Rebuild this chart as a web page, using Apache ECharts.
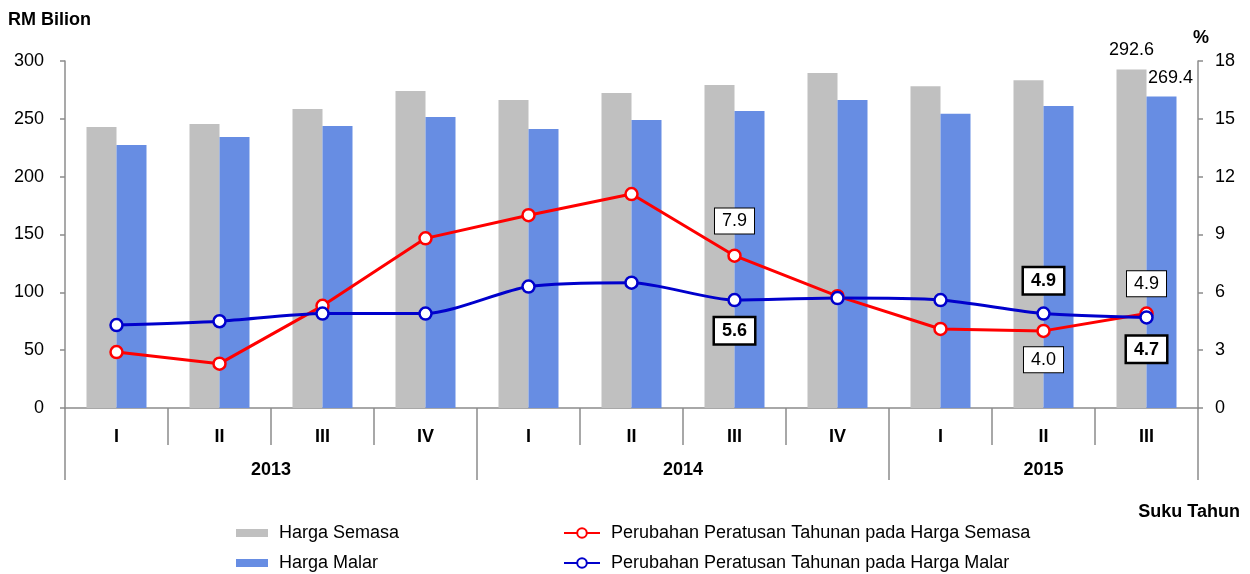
<!DOCTYPE html>
<html>
<head>
<meta charset="utf-8">
<script src="https://cdn.jsdelivr.net/npm/echarts@6/dist/echarts.min.js"></script>
<style>
  html, body { margin: 0; padding: 0; background: #fff; }
  #chart { width: 1250px; height: 574px; }
</style>
</head>
<body>
<div id="chart"></div>
<script>
var chart = echarts.init(document.getElementById('chart'));

// data
const quarters = ['I', 'II', 'III', 'IV', 'I', 'II', 'III', 'IV', 'I', 'II', 'III'];
const years = ['2013', '2014', '2015'];
const quartersPerYear = [4, 4, 3];
const hargaSemasa = [243.0, 245.5, 258.5, 274.0, 266.3, 272.3, 279.3, 289.6, 278.2, 283.3, 292.6];
const hargaMalar = [227.4, 234.3, 243.8, 251.6, 241.2, 249.0, 256.7, 266.3, 254.4, 261.1, 269.4];
const pctSemasa = [2.9, 2.3, 5.3, 8.8, 10.0, 11.1, 7.9, 5.8, 4.1, 4.0, 4.9];
const pctMalar = [4.3, 4.5, 4.9, 4.9, 6.3, 6.5, 5.6, 5.7, 5.6, 4.9, 4.7];

const nameSemasa = 'Harga Semasa';
const nameMalar = 'Harga Malar';
const namePctSemasa = 'Perubahan Peratusan Tahunan pada Harga Semasa';
const namePctMalar = 'Perubahan Peratusan Tahunan pada Harga Malar';

// year group boundaries / centres on a 0..n scale
var yearEdges = [0], yearMids = [];
quartersPerYear.forEach(function (n, i) {
  var start = yearEdges[i];
  yearEdges.push(start + n);
  yearMids.push(start + n / 2);
});

var font = 'Liberation Sans, Arial, sans-serif';
var fs = 18;
var axisGrey = '#8c8c8c';

function boxLabel(pos, bold, dist) {
  return {
    show: true,
    position: pos,
    distance: dist,
    formatter: function (p) { return p.value.toFixed(1); },
    backgroundColor: '#fff',
    borderColor: '#000',
    borderWidth: bold ? 2.5 : 1,
    padding: [4, 7, 3, 7],
    fontFamily: font,
    fontSize: fs,
    fontWeight: bold ? 'bold' : 'normal',
    color: '#000'
  };
}

// which points carry a value box: [position, bold, distance]
var semasaLabels = { 6: ['top', false, 15], 9: ['bottom', false, 9], 10: ['top', false, 10] };
var malarLabels = { 6: ['bottom', true, 11], 9: ['top', true, 13], 10: ['bottom', true, 12] };

function withLabels(values, map) {
  return values.map(function (v, i) {
    var m = map[i];
    if (m) return { value: v, label: boxLabel(m[0], m[1], m[2]) };
    return v;
  });
}

// one legend box per entry, laid out as two columns
function legendItem(name, left, top, isLine) {
  return {
    left: left,
    top: top,
    padding: 0,
    icon: isLine ? undefined : 'rect',
    itemWidth: isLine ? 36 : 32,
    itemHeight: isLine ? 12 : 8,
    textStyle: { fontFamily: font, fontSize: fs, color: '#000', padding: [0, 0, 0, isLine ? 6 : 6] },
    data: [name]
  };
}

var last = hargaSemasa.length - 1;

var options = {
  animation: false,
  textStyle: { fontFamily: font },
  grid: { left: 65, right: 52, top: 61, bottom: 166 },
  legend: [
    legendItem(nameSemasa, 236, 524, false),
    legendItem(nameMalar, 236, 554, false),
    legendItem(namePctSemasa, 563, 524, true),
    legendItem(namePctMalar, 563, 554, true)
  ],
  graphic: [
    { type: 'text', left: 8, top: 11, style: { text: 'RM Bilion', font: 'bold 18px ' + font, fill: '#000' } },
    { type: 'text', left: 1193, top: 29, style: { text: '%', font: 'bold 18px ' + font, fill: '#000' } },
    { type: 'text', right: 10, top: 503, style: { text: 'Suku Tahun', font: 'bold 18px ' + font, fill: '#000' } }
  ],
  xAxis: [{
    type: 'category',
    data: quarters,
    axisLine: { lineStyle: { color: axisGrey, width: 1.5 } },
    axisTick: { show: true, interval: 0, length: 37, lineStyle: { color: axisGrey, width: 1.5 } },
    axisLabel: { margin: 20, fontSize: fs, fontWeight: 'bold', color: '#000' }
  }, {
    type: 'value',
    position: 'bottom',
    min: 0,
    max: quarters.length,
    splitLine: { show: false },
    axisLine: { show: false },
    axisTick: {
      show: true,
      customValues: yearEdges,
      length: 72,
      lineStyle: { color: axisGrey, width: 1.5 }
    },
    axisLabel: {
      customValues: yearMids,
      margin: 53,
      fontSize: fs,
      fontWeight: 'bold',
      color: '#000',
      formatter: function (v) {
        var i = yearMids.indexOf(v);
        return i >= 0 ? years[i] : '';
      }
    }
  }],
  yAxis: [{
    type: 'value',
    min: 0,
    max: 300,
    interval: 50,
    splitLine: { show: false },
    axisLine: { show: true, lineStyle: { color: axisGrey, width: 1.5 } },
    axisTick: { show: true, length: 5, lineStyle: { color: axisGrey, width: 1.5 } },
    axisLabel: { fontSize: fs, color: '#000', margin: 21 }
  }, {
    type: 'value',
    min: 0,
    max: 18,
    interval: 3,
    splitLine: { show: false },
    axisLine: { show: true, lineStyle: { color: axisGrey, width: 1.5 } },
    axisTick: { show: true, length: 5, lineStyle: { color: axisGrey, width: 1.5 } },
    axisLabel: { fontSize: fs, color: '#000', margin: 17 }
  }],
  series: [{
    name: nameSemasa,
    type: 'bar',
    barWidth: 30,
    barGap: 0,
    itemStyle: { color: '#c0c0c0' },
    data: hargaSemasa.map(function (v, i) {
      if (i !== last) return v;
      return { value: v, label: { show: true, position: 'top', distance: 11, fontSize: fs, color: '#000' } };
    })
  }, {
    name: nameMalar,
    type: 'bar',
    barWidth: 30,
    barGap: 0,
    itemStyle: { color: '#678de3' },
    data: hargaMalar.map(function (v, i) {
      if (i !== last) return v;
      return { value: v, label: { show: true, position: 'top', distance: 9, offset: [9, 0], fontSize: fs, color: '#000' } };
    })
  }, {
    name: namePctSemasa,
    type: 'line',
    yAxisIndex: 1,
    symbol: 'circle',
    symbolSize: 12,
    lineStyle: { color: '#ff0000', width: 3 },
    itemStyle: { color: '#fff', borderColor: '#ff0000', borderWidth: 2.5 },
    data: withLabels(pctSemasa, semasaLabels)
  }, {
    name: namePctMalar,
    type: 'line',
    yAxisIndex: 1,
    smooth: 0.25,
    symbol: 'circle',
    symbolSize: 12,
    lineStyle: { color: '#0000cc', width: 3 },
    itemStyle: { color: '#fff', borderColor: '#0000cc', borderWidth: 2.5 },
    data: withLabels(pctMalar, malarLabels)
  }]
};

chart.setOption(options);
</script>
</body>
</html>
